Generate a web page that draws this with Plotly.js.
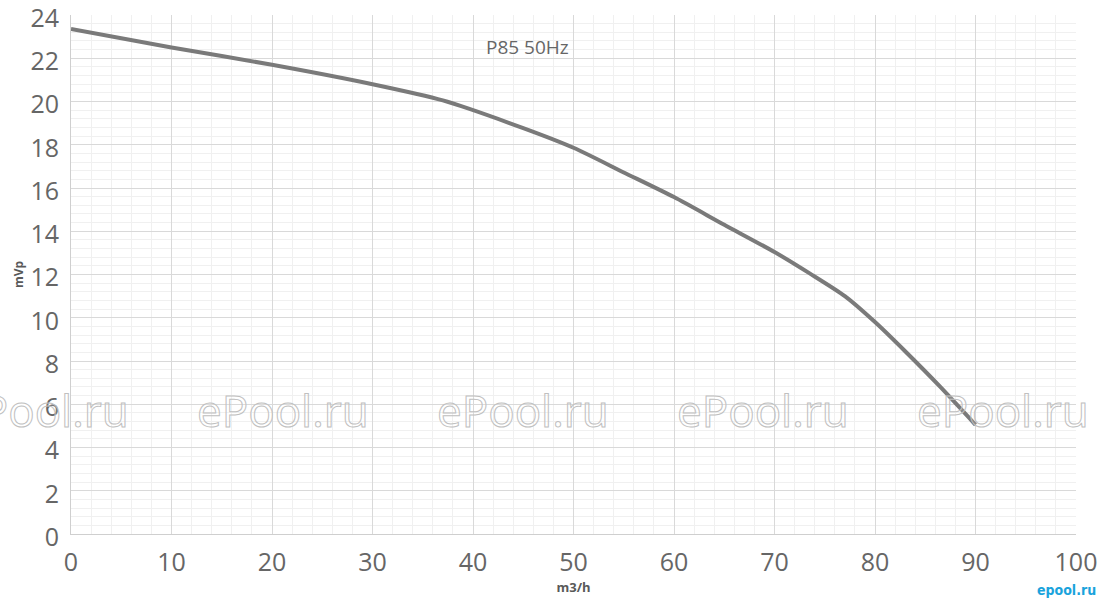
<!DOCTYPE html>
<html>
<head>
<meta charset="utf-8">
<script src="https://cdn.plot.ly/plotly-3.0.1.min.js"></script>
<style>
html,body{margin:0;padding:0;background:#fff;}
#chart{width:1100px;height:604px;}
</style>
</head>
<body>
<div id="chart"></div>
<script>
// Flow (m3/h) and head (mVp)
const flow = [0, 10, 20, 30, 37, 45, 50, 55, 60, 65, 70, 73.5, 77, 80, 83, 86.5, 90];
const head = [23.35, 22.5, 21.7, 20.8, 20.05, 18.77, 17.86, 16.72, 15.58, 14.3, 13.04, 12.05, 11.0, 9.8, 8.45, 6.8, 5.05];

const xTicks = [0, 10, 20, 30, 40, 50, 60, 70, 80, 90, 100];
const yTicks = [0, 2, 4, 6, 8, 10, 12, 14, 16, 18, 20, 22, 24];

const seriesName = "P85 50Hz";
const xTitle = "m3/h";
const yTitle = "mVp";
const watermark = "ePool.ru";
const watermarkX = [43, 283, 523, 763, 1003]; // paper pixel centres
const logoText = "epool.ru";

const W = 1100, H = 604;
const margin = {l: 71, r: 24, t: 15, b: 70};
const pw = W - margin.l - margin.r, ph = H - margin.t - margin.b;

const fontFam = '"Open Sans", "Noto Sans", sans-serif';

const annotations = [
  {
    text: seriesName, x: 45.4, y: 22.5, xref: 'x', yref: 'y',
    showarrow: false, font: {family: fontFam, size: 19, color: '#666666'}
  }
];
watermarkX.forEach(px => {
  annotations.push({
    text: watermark,
    x: (px - margin.l) / pw, xref: 'paper',
    y: (H - margin.b - 410) / ph, yref: 'paper',
    showarrow: false, xanchor: 'center', yanchor: 'middle',
    font: {family: fontFam, size: 44, color: '#ffffff'}
  });
});
annotations.push({
  text: '<b>' + logoText + '</b>', x: (1066 - margin.l) / pw, xref: 'paper',
  y: (H - margin.b - 590) / ph, yref: 'paper',
  showarrow: false, xanchor: 'center', yanchor: 'middle',
  font: {family: '"DejaVu Sans Condensed", "DejaVu Sans", sans-serif', size: 14, color: '#1aa3dc'}
});

const data = [{
  x: flow, y: head, type: 'scatter', mode: 'lines',
  line: {color: '#7a7a7a', width: 4, shape: 'spline', smoothing: 0.7},
  hoverinfo: 'skip'
}];

const layout = {
  width: W, height: H,
  margin: margin,
  paper_bgcolor: '#ffffff', plot_bgcolor: '#ffffff',
  showlegend: false,
  font: {family: fontFam, color: '#666666'},
  xaxis: {
    range: [0, 100], tickvals: xTicks, ticktext: xTicks.map(String),
    showgrid: true, gridcolor: '#d9d9d9', gridwidth: 1,
    minor: {dtick: 2, showgrid: true, gridcolor: '#f0f0f0', gridwidth: 1},
    showline: true, linecolor: '#cfcfcf', linewidth: 1,
    zeroline: false, ticks: '', ticklabelstandoff: 6, ticklabeloverflow: 'allow',
    tickfont: {family: fontFam, size: 25, color: '#666666'},
    title: {text: '<b>' + xTitle + '</b>', font: {family: fontFam, size: 13, color: '#595959'}, standoff: 2},
    fixedrange: true
  },
  yaxis: {
    range: [0, 24], tickvals: yTicks, ticktext: yTicks.map(String),
    showgrid: true, gridcolor: '#d9d9d9', gridwidth: 1,
    minor: {dtick: 0.4, showgrid: true, gridcolor: '#f0f0f0', gridwidth: 1},
    showline: true, linecolor: '#cfcfcf', linewidth: 1, mirror: false,
    zeroline: false, ticks: '', ticklabelstandoff: 6, ticklabelshift: 3, ticklabeloverflow: 'allow',
    tickfont: {family: fontFam, size: 25, color: '#666666'},
    title: {text: '<b>' + yTitle + '</b>', font: {family: fontFam, size: 12, color: '#595959'}, standoff: 4},
    fixedrange: true
  },
  annotations: annotations
};

Plotly.newPlot('chart', data, layout, {displayModeBar: false, staticPlot: true}).then(() => {
  document.querySelectorAll('.annotation-text').forEach(t => {
    if (t.textContent === watermark) {
      t.style.fill = 'rgba(255,255,255,0.15)';
      t.style.stroke = '#c0c0c0';
      t.style.strokeWidth = '1px';
    }
  });
});
</script>
</body>
</html>
